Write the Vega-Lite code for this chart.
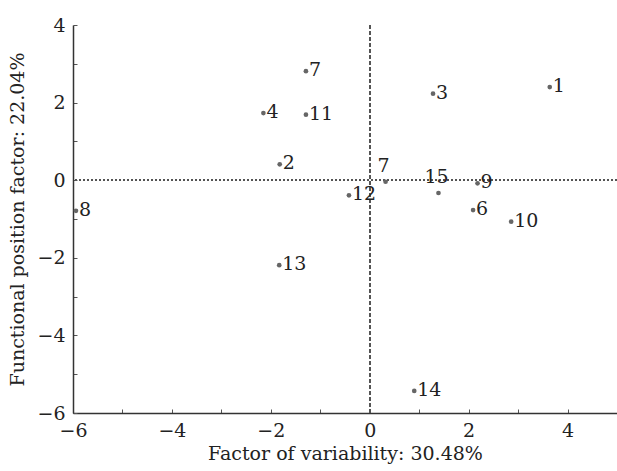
{
  "$schema": "https://vega.github.io/schema/vega-lite/v6.json",
  "width": 544,
  "height": 388,
  "autosize": "none",
  "padding": {"left": 73, "top": 25, "right": 0, "bottom": 58},
  "background": "white",
  "config": {
    "view": {"stroke": null},
    "font": "DejaVu Serif",
    "axis": {
      "grid": false,
      "domainColor": "#333",
      "domainWidth": 1.5,
      "tickColor": "#555",
      "tickSize": -4,
      "labelFlush": false,
      "labelFont": "DejaVu Serif",
      "labelFontSize": 19,
      "labelColor": "#222",
      "titleFont": "DejaVu Serif",
      "titleFontSize": 19,
      "titleFontWeight": "normal",
      "titleColor": "#222"
    }
  },
  "data": {
    "values": [
      {"label": "1", "x": 3.64, "y": 2.40},
      {"label": "2", "x": -1.82, "y": 0.41},
      {"label": "3", "x": 1.28, "y": 2.23},
      {"label": "4", "x": -2.15, "y": 1.73},
      {"label": "6", "x": 2.09, "y": -0.77},
      {"label": "7", "x": -1.29, "y": 2.81},
      {"label": "7", "x": 0.32, "y": -0.04},
      {"label": "8", "x": -5.94, "y": -0.79},
      {"label": "9", "x": 2.18, "y": -0.08},
      {"label": "10", "x": 2.86, "y": -1.07},
      {"label": "11", "x": -1.29, "y": 1.69},
      {"label": "12", "x": -0.42, "y": -0.39},
      {"label": "13", "x": -1.83, "y": -2.19},
      {"label": "14", "x": 0.90, "y": -5.43},
      {"label": "15", "x": 1.39, "y": -0.33}
    ]
  },
  "encoding": {
    "x": {
      "field": "x", "type": "quantitative",
      "scale": {"domain": [-6, 5], "nice": false, "zero": false},
      "axis": {
        "title": "Factor of variability: 30.48%",
        "values": [-6, -5, -4, -3, -2, -1, 0, 1, 2, 3, 4],
        "labelExpr": "datum.value % 2 == 0 ? datum.label : ''",
        "labelPadding": 12,
        "titlePadding": 4
      }
    },
    "y": {
      "field": "y", "type": "quantitative",
      "scale": {"domain": [-6, 4], "nice": false, "zero": false},
      "axis": {
        "title": "Functional position factor: 22.04%",
        "values": [-6, -5, -4, -3, -2, -1, 0, 1, 2, 3, 4],
        "labelExpr": "datum.value % 2 == 0 ? datum.label : ''",
        "labelPadding": 12,
        "titlePadding": 9
      }
    }
  },
  "layer": [
    {
      "mark": {"type": "rule", "color": "#555", "strokeDash": [2, 2], "strokeWidth": 1},
      "encoding": {"y": {"datum": 0}, "x": null}
    },
    {
      "mark": {"type": "rule", "color": "#555", "strokeDash": [4, 2], "strokeWidth": 1},
      "encoding": {"x": {"datum": 0}, "y": null}
    },
    {
      "mark": {"type": "circle", "color": "#666", "opacity": 1, "size": 22}
    },
    {
      "transform": [{"filter": "!(datum.label == '15' || (datum.label == '7' && datum.y < 0.5))"}],
      "mark": {"type": "text", "align": "left", "baseline": "middle", "dx": 3, "dy": -1, "fontSize": 19, "color": "#222", "font": "DejaVu Serif"},
      "encoding": {"text": {"field": "label"}}
    },
    {
      "transform": [{"filter": "datum.label == '15' || (datum.label == '7' && datum.y < 0.5)"}],
      "mark": {"type": "text", "align": "center", "baseline": "middle", "dx": -2, "dy": -16, "fontSize": 19, "color": "#222", "font": "DejaVu Serif"},
      "encoding": {"text": {"field": "label"}}
    }
  ]
}
